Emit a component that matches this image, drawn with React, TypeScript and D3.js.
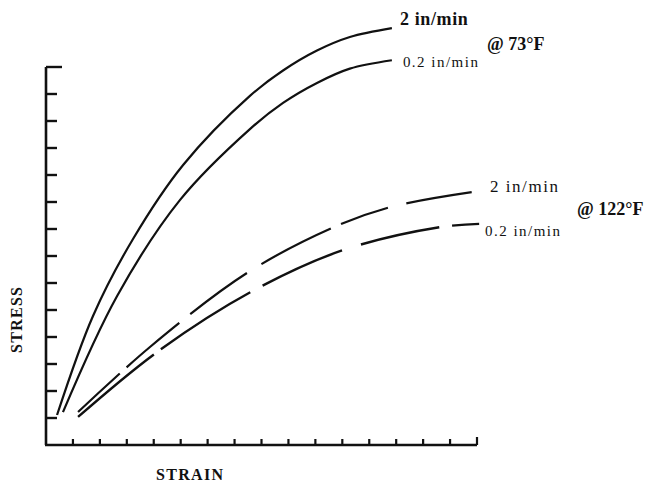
import React from "react";
import * as d3 from "d3";

// Axis tick counts (no numeric labels in the original)
const xTickIndex = d3.range(1, 17);
const yTickIndex = d3.range(1, 15);

// Curves, in axis units (strain, stress)
const strain73Fast = [0.41, 1.745, 3.23, 5.09, 7.57, 8.8, 10.06, 11.28, 12.84];
const stress73Fast = [1.11, 4.78, 7.63, 10.37, 12.93, 13.87, 14.61, 15.11, 15.44];

const strain73Slow = [0.63, 2.64, 4.97, 7.57, 8.8, 10.06, 11.28, 12.84];
const stress73Slow = [1.22, 5.52, 9.07, 11.7, 12.67, 13.41, 13.94, 14.25];

const strain122Fast = [1.19, 3.86, 7.46, 10.62, 12.77, 15.85];
const stress122Fast = [1.22, 3.63, 6.37, 8.04, 8.81, 9.37];

const strain122Slow = [1.19, 4.12, 7.61, 11.03, 14.63, 16.11];
const stress122Slow = [1.04, 3.44, 5.67, 7.22, 8.07, 8.19];

const rateLabels = ["2 in/min", "0.2 in/min"];
const tempLabels = ["@ 73°F", "@ 122°F"];
const axisTitles = ["STRAIN", "STRESS"];

const W = 647;
const H = 485;

export default function App() {
  const x = d3.scaleLinear().domain([0, 16]).range([46, 477]);
  const y = d3.scaleLinear().domain([0, 14]).range([445, 67]);

  const mk = (xs: number[], ys: number[]) => xs.map((v, i) => [v, ys[i]] as [number, number]);
  const line = d3
    .line<[number, number]>()
    .x((d) => x(d[0]))
    .y((d) => y(d[1]))
    .curve(d3.curveCatmullRom.alpha(0.5));

  const cA = mk(strain73Fast, stress73Fast);
  const cB = mk(strain73Slow, stress73Slow);
  const cC = mk(strain122Fast, stress122Fast);
  const cD = mk(strain122Slow, stress122Slow);

  const end = (c: [number, number][]) => {
    const p = c[c.length - 1];
    return [x(p[0]), y(p[1])];
  };
  const [aX, aY] = end(cA);
  const [bX, bY] = end(cB);
  const [cX, cY] = end(cC);
  const [dX, dY] = end(cD);

  const font = "'Liberation Serif', 'Times New Roman', serif";
  const ink = "#111";

  return (
    <svg
      width={W}
      height={H}
      style={{ position: "absolute", left: 0, top: 0, background: "#fff" }}
      fontFamily={font}
    >
      <rect width={W} height={H} fill="#fff" />
      {/* axes */}
      <line x1={x(0)} y1={y(0)} x2={x(0)} y2={y(14)} stroke={ink} strokeWidth={2.6} />
      <line x1={x(0) - 1} y1={y(0)} x2={x(16)} y2={y(0)} stroke={ink} strokeWidth={2.6} />
      {yTickIndex.map((t) => (
        <line
          key={"y" + t}
          x1={x(0)}
          x2={x(0) + (t === 14 ? 16 : 11)}
          y1={y(t)}
          y2={y(t)}
          stroke={ink}
          strokeWidth={2.4}
        />
      ))}
      {xTickIndex.map((t) => (
        <line
          key={"x" + t}
          x1={x(t)}
          x2={x(t)}
          y1={y(0)}
          y2={y(0) - (t === 16 ? 8 : 6)}
          stroke={ink}
          strokeWidth={2.2}
        />
      ))}

      {/* curves */}
      <path d={line(cA) || ""} fill="none" stroke={ink} strokeWidth={2.2} />
      <path d={line(cB) || ""} fill="none" stroke={ink} strokeWidth={2.2} />
      <path
        d={line(cC) || ""}
        fill="none"
        stroke={ink}
        strokeWidth={2.2}
        strokeDasharray="57 9 69 14 70 17 78 11 50 19 66 20"
      />
      <path
        d={line(cD) || ""}
        fill="none"
        stroke={ink}
        strokeWidth={2.4}
        strokeDasharray="98 9 106 14 87 20 80 13 27 20"
      />

      {/* labels */}
      <text x={aX + 8} y={aY - 3} fontSize={18} fontWeight={700} textLength={68} lengthAdjust="spacing" fill={ink}>
        {rateLabels[0]}
      </text>
      <text x={bX + 11} y={bY + 7} fontSize={15} textLength={75} lengthAdjust="spacing" fill={ink}>
        {rateLabels[1]}
      </text>
      <text x={487} y={50} fontSize={18} fontWeight={700} fill={ink}>
        {tempLabels[0]}
      </text>

      <text x={cX + 17} y={cY} fontSize={17} textLength={68} lengthAdjust="spacing" fill={ink}>
        {rateLabels[0]}
      </text>
      <text x={dX + 5} y={dY + 12} fontSize={15} textLength={75} lengthAdjust="spacing" fill={ink}>
        {rateLabels[1]}
      </text>
      <text x={577} y={215} fontSize={18} fontWeight={700} fill={ink}>
        {tempLabels[1]}
      </text>

      <text x={156} y={480} fontSize={16} fontWeight={700} textLength={67} lengthAdjust="spacing" fill={ink}>
        {axisTitles[0]}
      </text>
      <text
        transform="translate(22,320) rotate(-90)"
        textAnchor="middle"
        fontSize={16}
        fontWeight={700}
        textLength={66}
        lengthAdjust="spacing"
        fill={ink}
      >
        {axisTitles[1]}
      </text>
    </svg>
  );
}
